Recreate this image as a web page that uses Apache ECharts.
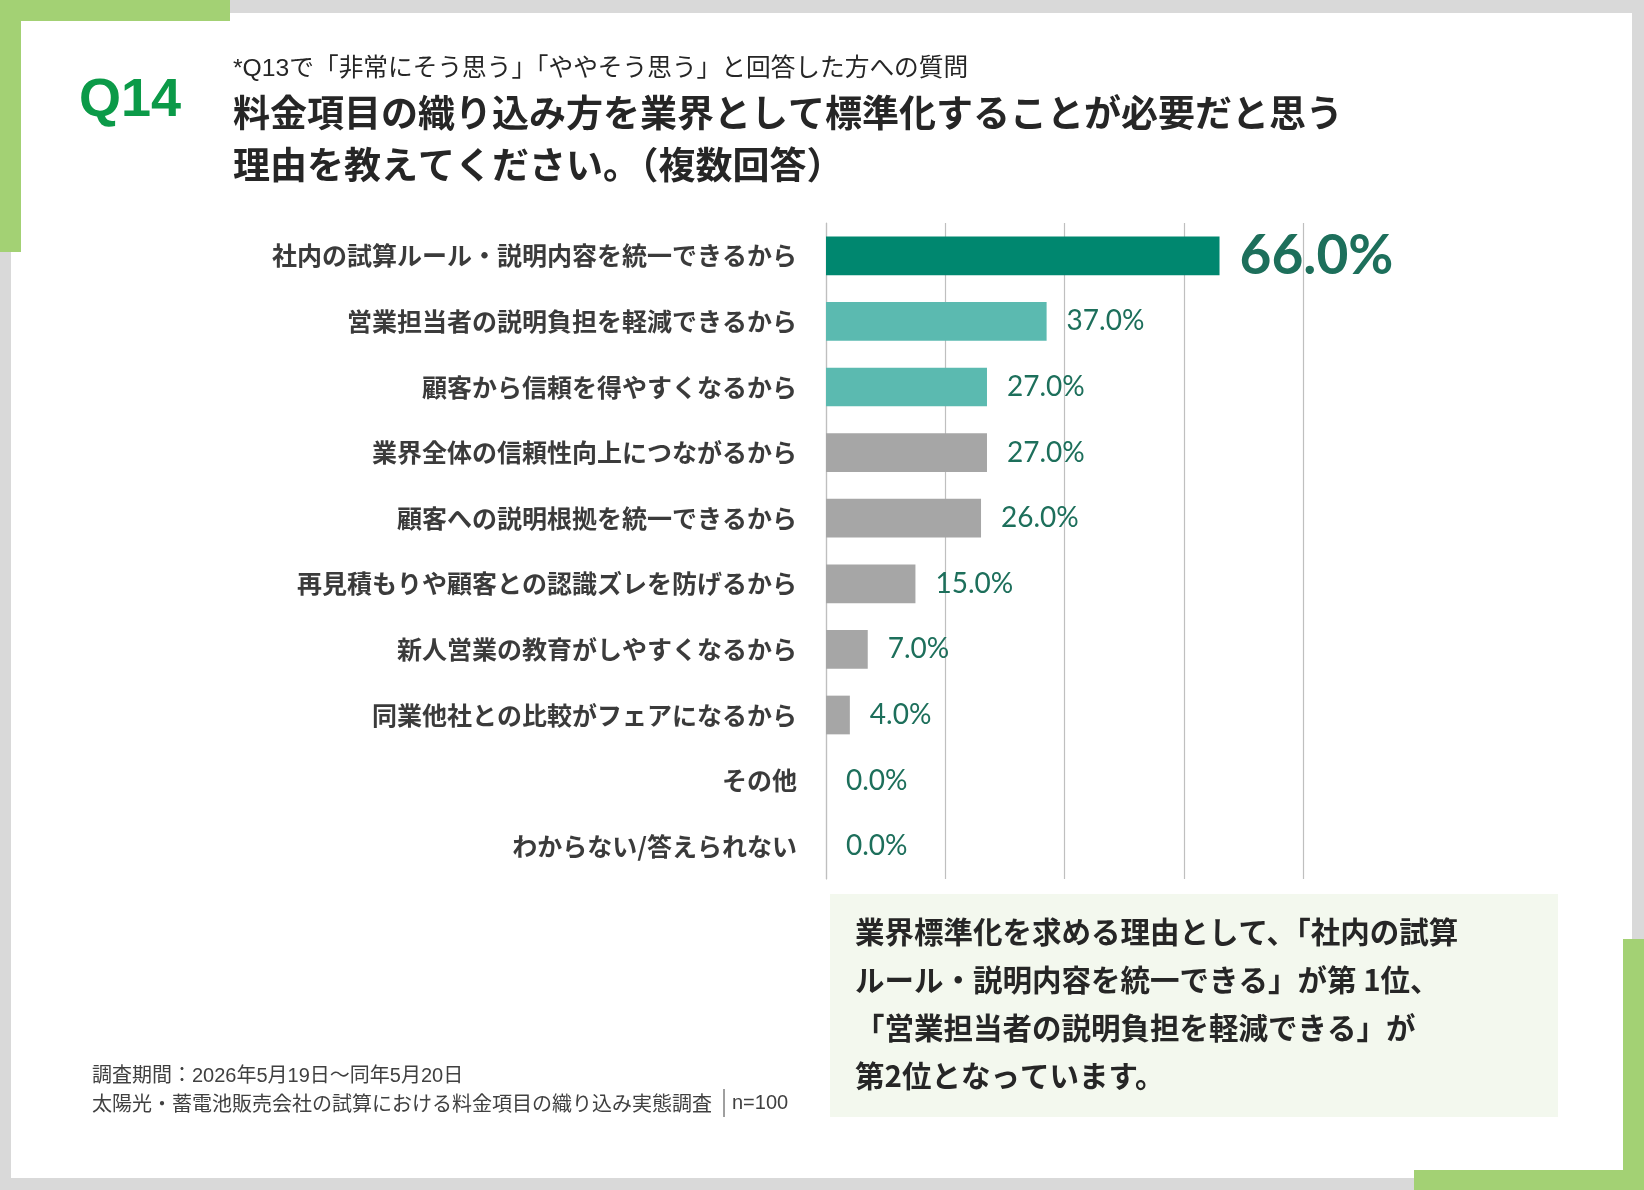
<!DOCTYPE html>
<html>
<head>
<meta charset="utf-8">
<script src="https://cdn.jsdelivr.net/npm/echarts@6/dist/echarts.min.js"></script>
<style>
  html, body { margin: 0; padding: 0; background: #d9d9d9; }
  #chart { width: 1644px; height: 1190px; }
</style>
</head>
<body>
<div id="chart"></div>
<script>
// categories, top to bottom
const reasons = [
    '社内の試算ルール・説明内容を統一できるから',
    '営業担当者の説明負担を軽減できるから',
    '顧客から信頼を得やすくなるから',
    '業界全体の信頼性向上につながるから',
    '顧客への説明根拠を統一できるから',
    '再見積もりや顧客との認識ズレを防げるから',
    '新人営業の教育がしやすくなるから',
    '同業他社との比較がフェアになるから',
    'その他',
    'わからない/答えられない'
];
const percents = [66, 37, 27, 27, 26, 15, 7, 4, 0, 0];

const qNumber = 'Q14';
const subNote = '*Q13で「非常にそう思う」「ややそう思う」と回答した方への質問';
const titleLines = [
    '料金項目の織り込み方を業界として標準化することが必要だと思う',
    '理由を教えてください。（複数回答）'
];
const summaryLines = [
    '業界標準化を求める理由として、「社内の試算',
    'ルール・説明内容を統一できる」が第 1位、',
    '「営業担当者の説明負担を軽減できる」が',
    '第2位となっています。'
];
const surveyPeriod = '調査期間：2026年5月19日～同年5月20日';
const surveyName = '太陽光・蓄電池販売会社の試算における料金項目の織り込み実態調査';
const sampleSize = 'n=100';

const JP = '"Noto Sans CJK JP", sans-serif';
const GREEN = '#a3d174';

const chart = echarts.init(document.getElementById('chart'));

// top one dark teal, next two light teal, rest gray
function barColor(i) {
    if (i === 0) return '#00876f';
    if (i < 3) return '#5bbab0';
    return '#a6a6a6';
}

const barData = percents.map((v, i) => {
    const item = { value: v, itemStyle: { color: barColor(i) } };
    if (i === 0) {
        item.label = { fontSize: 55, fontWeight: 'bold', distance: 20 };
    }
    return item;
});

const option = {
    backgroundColor: '#d9d9d9',
    animation: false,
    grid: { left: 826, top: 223, width: 477, height: 656, containLabel: false },
    xAxis: {
        type: 'value',
        min: 0,
        max: 80,
        interval: 20,
        axisLabel: { show: false },
        axisLine: { show: false },
        axisTick: { show: false },
        splitLine: { lineStyle: { color: '#bfbfbf', width: 1.2 } }
    },
    yAxis: {
        type: 'category',
        inverse: true,
        data: reasons,
        axisTick: { show: false },
        axisLine: { show: true, lineStyle: { color: '#bfbfbf', width: 1.2 } },
        axisLabel: {
            margin: 29,
            fontFamily: JP,
            fontSize: 25,
            fontWeight: 'bold',
            color: '#3b3b3b',
            padding: [0, 0, 4, 0]
        }
    },
    series: [{
        type: 'bar',
        data: barData,
        barCategoryGap: '41%',
        label: {
            show: true,
            position: 'right',
            distance: 20,
            fontFamily: 'Lato, sans-serif',
            fontSize: 28,
            color: '#1d6f5b',
            formatter: p => p.value.toFixed(1) + '%'
        }
    }],
    graphic: [
        // white page
        { type: 'rect', z: -10, shape: { x: 11, y: 13, width: 1621, height: 1165 }, style: { fill: '#ffffff' } },
        // green corner, top left
        { type: 'rect', z: -5, shape: { x: 0, y: 0, width: 230, height: 21 }, style: { fill: GREEN } },
        { type: 'rect', z: -5, shape: { x: 0, y: 0, width: 21, height: 252 }, style: { fill: GREEN } },
        // green corner, bottom right
        { type: 'rect', z: -5, shape: { x: 1623, y: 939, width: 21, height: 251 }, style: { fill: GREEN } },
        { type: 'rect', z: -5, shape: { x: 1414, y: 1170, width: 230, height: 20 }, style: { fill: GREEN } },
        // summary box
        { type: 'rect', z: -5, shape: { x: 830, y: 894, width: 728, height: 223 }, style: { fill: '#f3f8ee' } },
        {
            type: 'text', z: 5,
            style: {
                x: 79, y: 101, text: qNumber,
                font: 'bold 54px "Liberation Sans", Arial, sans-serif',
                fill: '#0b9a48', verticalAlign: 'middle'
            }
        },
        {
            type: 'text', z: 5,
            style: {
                x: 233, y: 69, text: subNote,
                font: '24.7px "Liberation Sans", ' + JP,
                fill: '#262626', verticalAlign: 'middle'
            }
        },
        {
            type: 'text', z: 5,
            style: {
                x: 233, y: 87, text: titleLines.join('\n'),
                font: 'bold 37px ' + JP, lineHeight: 52,
                fill: '#262626', verticalAlign: 'top'
            }
        },
        {
            type: 'text', z: 5,
            style: {
                x: 855, y: 908, text: summaryLines.join('\n'),
                font: 'bold 29.5px ' + JP, lineHeight: 48,
                fill: '#262626', verticalAlign: 'top'
            }
        },
        {
            type: 'text', z: 5,
            style: {
                x: 92, y: 1076, text: surveyPeriod,
                font: '20px "Liberation Sans", ' + JP,
                fill: '#404040', verticalAlign: 'middle'
            }
        },
        {
            type: 'text', z: 5,
            style: {
                x: 92, y: 1103, text: surveyName,
                font: '20px ' + JP,
                fill: '#404040', verticalAlign: 'middle'
            }
        },
        { type: 'line', z: 5, shape: { x1: 724, y1: 1089, x2: 724, y2: 1117 }, style: { stroke: '#404040', lineWidth: 1 } },
        {
            type: 'text', z: 5,
            style: {
                x: 732, y: 1103, text: sampleSize,
                font: '20px "Liberation Sans", sans-serif',
                fill: '#404040', verticalAlign: 'middle'
            }
        }
    ]
};

chart.setOption(option);
</script>
</body>
</html>
